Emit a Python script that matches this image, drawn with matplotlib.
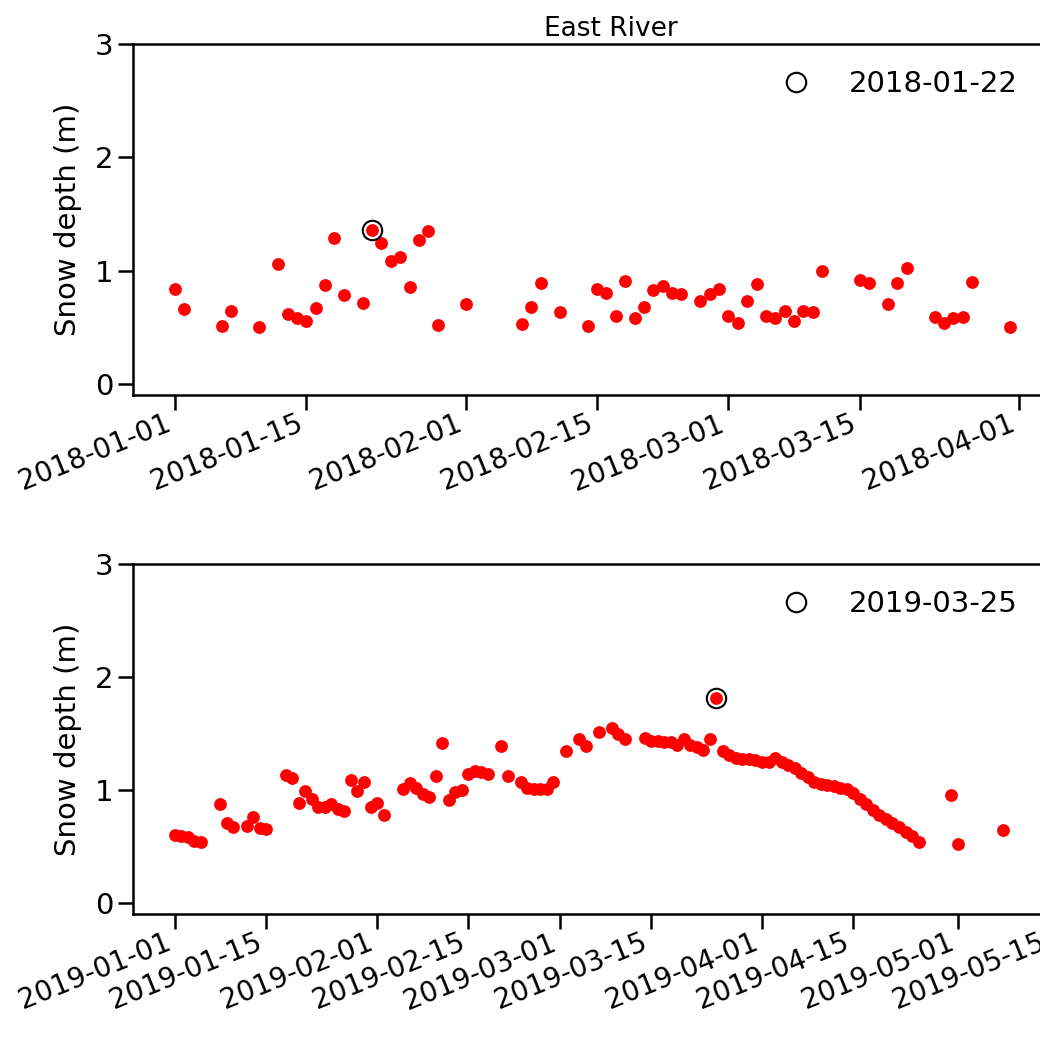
import pandas as pd
import matplotlib
matplotlib.use("Agg")
import matplotlib.pyplot as plt
import matplotlib.dates as mdates

# days after Jan 1 and snow depth (m)
day_2018 = [0, 1, 5, 6, 9, 11, 12, 13, 14, 15, 16, 17, 18, 20, 21, 22, 23, 24, 25, 26, 27, 28,
            31, 37, 38, 39, 41, 44, 45, 46, 47, 48, 49, 50, 51, 52, 53, 54, 56, 57, 58, 59,
            60, 61, 62, 63, 64, 65, 66, 67, 68, 69, 73, 74, 76, 77, 78, 81, 82, 83, 84, 85, 89]
depth_2018 = [0.84, 0.66, 0.51, 0.64, 0.50, 1.06, 0.62, 0.58, 0.55, 0.67, 0.87, 1.29, 0.78, 0.71,
              1.36, 1.24, 1.08, 1.12, 0.85, 1.27, 1.35, 0.52, 0.70, 0.53, 0.68, 0.89, 0.63, 0.51,
              0.84, 0.80, 0.60, 0.91, 0.58, 0.68, 0.83, 0.86, 0.80, 0.79, 0.73, 0.79, 0.84, 0.60,
              0.54, 0.73, 0.88, 0.60, 0.58, 0.64, 0.55, 0.64, 0.63, 1.00, 0.92, 0.89, 0.70, 0.89,
              1.02, 0.59, 0.54, 0.58, 0.59, 0.90, 0.50]

day_2019 = [0, 1, 2, 3, 4, 7, 8, 9, 11, 12, 13, 14, 17, 18, 19, 20, 21, 22, 23, 24, 25, 26, 27,
            28, 29, 30, 31, 32, 35, 36, 37, 38, 39, 40, 41, 42, 43, 44, 45, 46, 47, 48, 50, 51,
            53, 54, 55, 56, 57, 58, 60, 62, 63, 65, 67, 68, 69, 72, 73, 74, 75, 76, 77, 78, 79,
            80, 81, 82, 83, 84, 85, 86, 87, 88, 89, 90, 91, 92, 93, 94, 95, 96, 97, 98, 99, 100,
            101, 102, 103, 104, 105, 106, 107, 108, 109, 110, 111, 112, 113, 114, 119, 120, 127]
depth_2019 = [0.60, 0.59, 0.58, 0.55, 0.54, 0.87, 0.71, 0.67, 0.68, 0.76, 0.66, 0.65, 1.13, 1.10,
              0.88, 0.99, 0.92, 0.85, 0.85, 0.87, 0.83, 0.81, 1.09, 0.99, 1.07, 0.85, 0.88, 0.78,
              1.01, 1.06, 1.02, 0.96, 0.94, 1.12, 1.41, 0.91, 0.98, 1.00, 1.14, 1.17, 1.16, 1.14,
              1.39, 1.12, 1.07, 1.02, 1.01, 1.01, 1.01, 1.07, 1.34, 1.45, 1.39, 1.51, 1.55, 1.49,
              1.45, 1.46, 1.43, 1.43, 1.42, 1.42, 1.40, 1.45, 1.40, 1.38, 1.35, 1.45, 1.81, 1.34,
              1.31, 1.28, 1.27, 1.27, 1.26, 1.25, 1.25, 1.28, 1.25, 1.22, 1.19, 1.15, 1.11, 1.07,
              1.05, 1.04, 1.03, 1.02, 1.01, 0.97, 0.92, 0.87, 0.82, 0.78, 0.74, 0.71, 0.67, 0.63,
              0.59, 0.54, 0.95, 0.52, 0.64]

hl_2018 = "2018-01-22"
hl_2019 = "2019-03-25"

fs = 21
fig = plt.figure(figsize=(10.4, 10.49), dpi=100)
ax1 = fig.add_axes([0.1279, 0.6234, 0.8827, 0.3346])
ax2 = fig.add_axes([0.1279, 0.1287, 0.8827, 0.3337])

panels = [(ax1, "2018-01-01", day_2018, depth_2018, hl_2018, (-4.48, 93.4)),
          (ax2, "2019-01-01", day_2019, depth_2019, hl_2019, (-6.4, 134.3))]

for ax, start, days, depth, hl, lim in panels :
    t0 = pd.Timestamp(start)
    dates = t0 + pd.to_timedelta(days, unit="D")
    s = pd.Series(depth, index=dates)
    ax.scatter(s.index, s.values, s=85, color="red", linewidths=0, zorder=2)
    ax.plot([pd.Timestamp(hl)], [s[pd.Timestamp(hl)]], "o", mfc="none", mec="k", ms=14,
            mew=1.5, label=hl, zorder=3)
    ax.set_xlim(t0 + pd.Timedelta(days=lim[0]), t0 + pd.Timedelta(days=lim[1]))
    ax.set_ylim(-0.1, 3)
    ax.set_yticks([0, 1, 2, 3])
    ax.xaxis.set_major_locator(mdates.DayLocator(bymonthday=[1, 15]))
    ax.xaxis.set_major_formatter(mdates.DateFormatter("%Y-%m-%d"))
    ax.tick_params(labelsize=fs, length=10.5, width=1.8)
    ax.tick_params(axis="x", pad=0, labelsize=20)
    for sp in ax.spines.values() :
        sp.set_linewidth(1.8)
    plt.setp(ax.get_xticklabels(), rotation=22, ha="right")
    ax.set_ylabel("Snow depth (m)", fontsize=fs, labelpad=9)
    ax.legend(loc="upper right", bbox_to_anchor=(0.992, 1), frameon=False, fontsize=fs)

ax1.set_title("East River", fontsize=19, x=0.52)

fig.savefig("out.png", dpi=100)
